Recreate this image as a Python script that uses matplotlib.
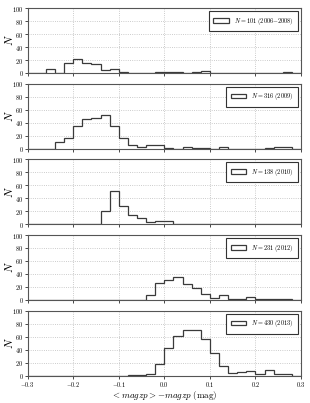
import numpy as np
import matplotlib
matplotlib.use('Agg')
import matplotlib.pyplot as plt

plt.rcParams['font.family'] = 'serif'
plt.rcParams['font.serif'] = ['cmr10', 'DejaVu Serif']
plt.rcParams['mathtext.fontset'] = 'cm'
plt.rcParams['axes.formatter.use_mathtext'] = True

# bin edges of the histograms (width 0.02 mag)
bin_edges = np.round(np.arange(-0.30, 0.3001, 0.02), 2)

# counts per bin (30 bins from -0.30 to 0.30)
counts_2006 = [0, 0, 6, 0, 15, 21, 16, 14, 5, 6, 1, 0, 0, 0, 1, 1, 1, 0, 1, 3,
               0, 0, 0, 0, 0, 0, 0, 0, 1, 0]
counts_2009 = [0, 0, 0, 11, 17, 35, 46, 47, 52, 35, 16, 5, 3, 6, 5, 1, 0, 2, 1, 1,
               0, 3, 0, 0, 0, 0, 1, 2, 3, 0]
counts_2010 = [0, 0, 0, 0, 0, 0, 0, 0, 21, 51, 28, 14, 9, 3, 5, 5, 1, 0, 0, 0,
               0, 0, 0, 0, 0, 0, 0, 0, 0, 0]
counts_2012 = [0, 0, 0, 0, 0, 0, 0, 0, 0, 0, 0, 0, 0, 7, 26, 31, 36, 24, 18, 9,
               3, 7, 1, 2, 4, 1, 2, 2, 2, 0]
counts_2013 = [0, 0, 0, 0, 0, 0, 0, 0, 0, 0, 0, 1, 1, 3, 18, 43, 61, 70, 70, 56,
               35, 15, 4, 6, 7, 2, 8, 2, 3, 0]

all_counts = [counts_2006, counts_2009, counts_2010, counts_2012, counts_2013]
labels = [r'$N=101$ (2006$-$2008)', r'$N=316$ (2009)', r'$N=138$ (2010)',
          r'$N=231$ (2012)', r'$N=430$ (2013)']

xticks = [-0.3, -0.2, -0.1, 0.0, 0.1, 0.2, 0.3]
yticks = [0, 20, 40, 60, 80, 100]

fig, axes = plt.subplots(nrows=5, ncols=1, figsize=(3.1, 4.03), dpi=100, sharex=True)
fig.subplots_adjust(left=0.089, right=0.971, top=0.98, bottom=0.068, hspace=0.165)

centers = 0.5 * (bin_edges[:-1] + bin_edges[1:])
for ax, counts, lab in zip(axes, all_counts, labels):
    ax.hist(centers, bins=bin_edges, weights=counts, histtype='step',
            color='#3a3a3a', linewidth=0.9, label=lab)
    ax.set_xlim(-0.3, 0.3)
    ax.set_ylim(0, 100)
    ax.set_xticks(xticks)
    ax.set_yticks(yticks)
    ax.grid(True, linestyle=':', color='#bbbbbb', linewidth=0.6)
    ax.set_axisbelow(True)
    ax.set_ylabel(r'$N$', fontsize=8)
    ax.yaxis.set_label_coords(-0.045, 0.5)
    ax.tick_params(labelsize=4.5, length=2, width=0.5, pad=1)
    for sp in ax.spines.values():
        sp.set_color('#555555')
        sp.set_linewidth(0.8)
    leg = ax.legend(loc='upper right', fontsize=4.5, fancybox=False,
                    handlelength=2.5, borderpad=0.7, framealpha=1)
    leg.get_frame().set_edgecolor('#333333')
    leg.get_frame().set_linewidth(0.8)

axes[-1].set_xlabel(r'$<magzp>-magzp$ (mag)', fontsize=6.5, labelpad=0)

plt.savefig('out.png', dpi=100)
